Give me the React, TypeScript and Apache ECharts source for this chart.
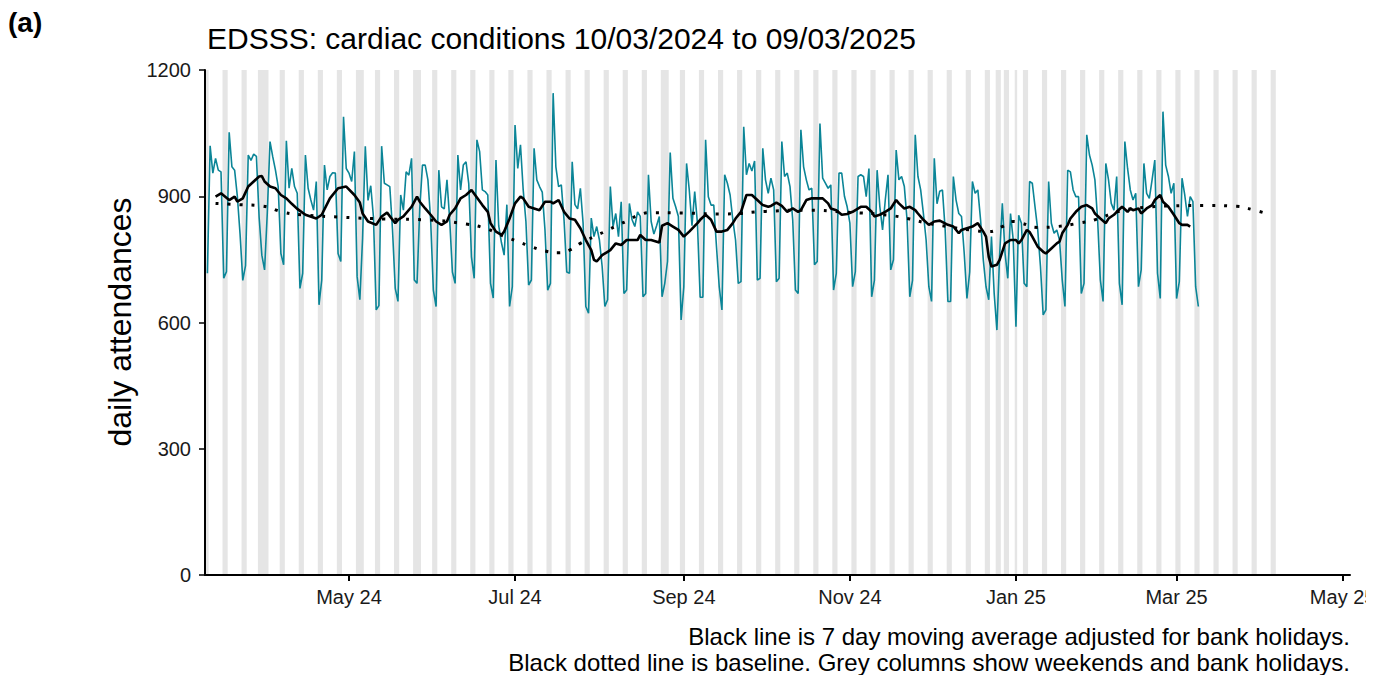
import React, { useEffect, useRef } from "react";
import * as echarts from "echarts";

const DAY = 86400000;
const startDate = "2024-03-10";
const axisMinDay = -0.88;
const axisMaxDay = 419.7;

// daily attendances, one value per day from 10/03/2024 to 09/03/2025
const dailyAttendances = [
  717, 1020, 955, 990, 962, 958, 705, 721, 1052, 970, 962, 900, 810, 700,
  735, 998, 985, 1000, 995, 850, 760, 725, 860, 1030, 994, 962, 923, 764,
  737, 1032, 919, 966, 923, 907, 681, 717, 998, 919, 891, 867, 935, 642,
  701, 974, 915, 947, 956, 955, 764, 745, 1089, 966, 955, 935, 1006, 709,
  654, 800, 1019, 890, 925, 850, 630, 640, 1019, 931, 927, 923, 820, 681,
  650, 903, 867, 958, 950, 990, 701, 693, 870, 974, 974, 939, 844, 677,
  638, 962, 875, 870, 939, 844, 720, 693, 998, 915, 974, 982, 930, 756,
  705, 1034, 1006, 915, 911, 903, 693, 658, 986, 830, 790, 760, 880, 638,
  685, 1069, 966, 1022, 915, 840, 689, 701, 1014, 939, 923, 910, 820, 677,
  693, 1145, 970, 923, 927, 844, 720, 717, 982, 880, 870, 919, 836, 638,
  622, 848, 804, 828, 796, 733, 638, 654, 923, 828, 859, 804, 887, 669,
  677, 883, 844, 828, 863, 852, 661, 669, 951, 840, 810, 830, 852, 661,
  693, 745, 1004, 895, 875, 852, 606, 685, 978, 915, 830, 911, 836, 660,
  660, 1034, 899, 879, 879, 780, 685, 630, 951, 931, 903, 844, 796, 693,
  697, 1065, 951, 978, 960, 984, 701, 705, 1014, 939, 907, 943, 915, 697,
  705, 1030, 947, 955, 923, 844, 677, 669, 1058, 970, 939, 915, 919, 737,
  745, 1073, 943, 931, 919, 927, 677, 717, 955, 955, 900, 875, 836, 685,
  721, 947, 951, 947, 899, 966, 661, 700, 962, 875, 820, 891, 951, 725,
  749, 1010, 939, 947, 923, 844, 661, 700, 1046, 947, 915, 859, 796, 685,
  650, 990, 882, 912, 915, 820, 650, 650, 947, 891, 859, 852, 764, 657,
  720, 935, 907, 915, 844, 749, 685, 654, 804, 669, 582, 760, 883, 764,
  705, 859, 796, 590, 855, 836, 693, 685, 935, 931, 875, 820, 733, 618,
  630, 935, 836, 812, 820, 796, 701, 638, 962, 958, 915, 899, 899, 669,
  693, 1046, 998, 974, 939, 844, 701, 650, 978, 939, 883, 867, 947, 693,
  642, 1030, 966, 915, 891, 907, 685, 725, 978, 907, 895, 939, 986, 717,
  657, 1101, 974, 947, 907, 931, 657, 697, 943, 903, 852, 899, 887, 685,
  638,
];

// 7 day moving average: [day offset from start, value]
const movingAverage: [number, number][] = [
  [3, 899], [5, 907], [8, 891], [10, 899], [11, 887], [13, 895], [15, 923], [17, 935],
  [19, 947], [20, 948], [21, 935], [23, 923], [25, 919], [27, 903], [29, 895], [31, 882],
  [33, 870], [36, 856], [40, 847], [42, 856], [45, 895], [48, 919], [51, 923], [54, 903],
  [56, 885], [57, 859], [59, 840], [62, 832], [64, 852], [66, 861], [69, 836], [70, 844],
  [72, 852], [75, 875], [77, 899], [78, 887], [80, 871], [82, 856], [84, 840], [86, 832],
  [88, 840], [89, 856], [91, 871], [93, 895], [95, 903], [97, 915], [99, 897], [101, 879],
  [103, 863], [104, 836], [106, 816], [108, 808], [109, 816], [111, 847], [113, 883], [115, 899],
  [116, 895], [118, 875], [120, 871], [122, 867], [124, 887], [126, 887], [127, 883], [129, 891],
  [131, 863], [133, 847], [135, 844], [137, 824], [139, 796], [141, 772], [142, 749], [143, 745],
  [145, 760], [147, 768], [148, 772], [150, 788], [152, 784], [154, 796], [156, 796], [158, 796],
  [159, 808], [161, 796], [163, 796], [166, 790], [167, 830], [169, 836], [171, 828], [173, 820],
  [175, 804], [177, 816], [180, 836], [181, 844], [183, 856], [185, 844], [187, 816], [189, 816],
  [191, 820], [193, 836], [194, 847], [196, 863], [198, 903], [200, 903], [201, 897], [202, 891],
  [204, 879], [206, 875], [207, 877], [209, 885], [211, 877], [213, 863], [215, 871], [217, 863],
  [218, 867], [220, 891], [222, 895], [225, 895], [226, 895], [228, 883], [229, 871], [231, 867],
  [233, 856], [235, 858], [237, 863], [240, 875], [242, 875], [244, 863], [245, 852], [247, 856],
  [249, 863], [251, 871], [253, 891], [254, 883], [256, 871], [258, 875], [260, 867], [261, 859],
  [263, 844], [265, 832], [267, 840], [269, 842], [272, 832], [274, 828], [276, 812], [277, 820],
  [279, 824], [281, 828], [283, 836], [285, 816], [286, 804], [287, 756], [288, 733], [290, 737],
  [291, 749], [293, 788], [295, 796], [297, 796], [298, 788], [299, 796], [301, 820], [302, 815],
  [303, 804], [305, 780], [307, 768], [308, 764], [310, 776], [312, 788], [313, 792], [314, 812],
  [316, 832], [317, 847], [319, 863], [321, 875], [323, 879], [325, 871], [326, 859], [328, 847],
  [330, 836], [331, 847], [333, 856], [334, 863], [336, 875], [338, 863], [339, 871], [340, 867],
  [342, 871], [343, 859], [345, 871], [347, 879], [348, 891], [350, 903], [351, 887], [353, 875],
  [355, 856], [357, 836], [358, 832], [360, 832], [361, 828],
];

// baseline: [day offset from start, value]
const baseline: [number, number][] = [
  [3, 883], [12, 880], [20, 877], [28, 862], [35, 856], [50, 850], [65, 846], [80, 844],
  [95, 834], [102, 824], [107, 810], [111, 800], [115, 790], [119, 780], [124, 770], [129, 766],
  [133, 772], [137, 788], [142, 804], [146, 816], [150, 829], [155, 844], [158, 854], [163, 861],
  [175, 860], [190, 858], [205, 864], [220, 867], [235, 862], [250, 855], [258, 846], [263, 838],
  [270, 830], [280, 820], [287, 816], [292, 828], [296, 840], [299, 836], [305, 826], [312, 828],
  [320, 836], [326, 844], [335, 864], [345, 874], [355, 877], [368, 878], [378, 876], [384, 868],
  [390, 857],
];

const bankHolidays = [
  "2024-03-29", "2024-04-01", "2024-05-06", "2024-05-27", "2024-08-26",
  "2024-12-25", "2024-12-26", "2025-01-01",
];
const greyEndDate = "2025-04-06";

const tickDates = ["2024-05-01", "2024-07-01", "2024-09-01", "2024-11-01", "2025-01-01", "2025-03-01", "2025-05-01"];
const tickLabels = ["May 24", "Jul 24", "Sep 24", "Nov 24", "Jan 25", "Mar 25", "May 25"];
const yTicks = { min: 0, max: 1200, interval: 300 };

const titleText = "EDSSS: cardiac conditions 10/03/2024 to 09/03/2025";
const panelLabel = "(a)";
const yLabel = "daily attendances";
const footnote1 = "Black line is 7 day moving average adjusted for bank holidays.";
const footnote2 = "Black dotted line is baseline. Grey columns show weekends and bank holidays.";

const parseDate = (s: string) => {
  const [y, m, d] = s.split("-").map(Number);
  return Date.UTC(y, m - 1, d);
};
const START = parseDate(startDate);
const dayOf = (s: string) => Math.round((parseDate(s) - START) / DAY);

const FONT = "'Liberation Sans', Arial, sans-serif";

function buildGreyAreas() {
  const endDay = dayOf(greyEndDate);
  const hol = new Set(bankHolidays.map(dayOf));
  const days: number[] = [];
  for (let d = 0; d <= endDay; d++) {
    const wd = new Date(START + d * DAY).getUTCDay();
    if (wd === 0 || wd === 6 || hol.has(d)) days.push(d);
  }
  const runs: [number, number][] = [];
  for (const d of days) {
    const last = runs[runs.length - 1];
    if (last && last[1] === d - 1) last[1] = d;
    else runs.push([d, d]);
  }
  return runs.map(([a, b]) => [{ xAxis: Math.max(a - 0.45, axisMinDay) }, { xAxis: b + 0.45 }]);
}

export default function App() {
  const ref = useRef<HTMLDivElement>(null);
  useEffect(() => {
    if (!ref.current) return;
    const chart = echarts.init(ref.current, undefined, { renderer: "svg" });
    const tickDays = tickDates.map(dayOf);
    chart.setOption({
      animation: false,
      backgroundColor: "#ffffff",
      grid: { left: 205, right: 16, top: 70, bottom: 100, containLabel: false, outerBoundsMode: "none" },
      xAxis: {
        type: "value",
        min: axisMinDay,
        max: axisMaxDay,
        z: 10,
        axisLine: { show: true, onZero: false, lineStyle: { color: "#000", width: 2 } },
        axisTick: { show: true, length: 6, lineStyle: { color: "#000", width: 2 }, customValues: tickDays },
        axisLabel: {
          customValues: tickDays,
          color: "#1a1a1a",
          fontSize: 20,
          fontFamily: FONT,
          margin: 12,
          formatter: (v: number) => {
            let best = 0;
            tickDays.forEach((t, i) => {
              if (Math.abs(t - v) < Math.abs(tickDays[best] - v)) best = i;
            });
            return tickLabels[best];
          },
        },
        splitLine: { show: false },
      },
      yAxis: {
        type: "value",
        min: yTicks.min,
        max: yTicks.max,
        interval: yTicks.interval,
        z: 10,
        axisLine: { show: true, onZero: false, lineStyle: { color: "#000", width: 2 } },
        axisTick: { show: true, length: 6, lineStyle: { color: "#000", width: 1.5 } },
        axisLabel: {
          color: "#1a1a1a", fontSize: 20, fontFamily: FONT, margin: 14,
          formatter: (v: number) => String(v),
        },
        splitLine: { show: false },
      },
      graphic: [
        {
          type: "text", x: 8, y: 22,
          style: { text: panelLabel, font: `bold 28px ${FONT}`, fill: "#000", textVerticalAlign: "middle" },
        },
        {
          type: "text", x: 207, y: 38,
          style: { text: titleText, font: `30px ${FONT}`, fill: "#000", textVerticalAlign: "middle" },
        },
        {
          type: "text", x: 120, y: 322, rotation: Math.PI / 2,
          style: { text: yLabel, font: `32px ${FONT}`, fill: "#000", textAlign: "center", textVerticalAlign: "middle" },
        },
        {
          type: "text", x: 1350, y: 636,
          style: { text: footnote1, font: `24px ${FONT}`, fill: "#000", textAlign: "right", textVerticalAlign: "middle" },
        },
        {
          type: "text", x: 1350, y: 662,
          style: { text: footnote2, font: `24px ${FONT}`, fill: "#000", textAlign: "right", textVerticalAlign: "middle" },
        },
      ],
      series: [
        {
          type: "line",
          name: "daily",
          data: dailyAttendances.map((v, i) => [i, v]),
          symbol: "none",
          lineStyle: { color: "#0b8597", width: 1.6 },
          z: 2,
          markArea: {
            silent: true,
            itemStyle: { color: "#e5e5e5" },
            data: buildGreyAreas(),
          },
        },
        {
          type: "line",
          name: "baseline",
          data: baseline,
          symbol: "none",
          smooth: true,
          lineStyle: { color: "#000", width: 3, type: [3, 9], cap: "butt" },
          z: 3,
        },
        {
          type: "line",
          name: "ma",
          data: movingAverage,
          symbol: "none",
          lineStyle: { color: "#000", width: 2.6 },
          z: 4,
        },
      ],
    });
    return () => chart.dispose();
  }, []);
  return (
    <div
      ref={ref}
      style={{ position: "absolute", left: 0, top: 0, width: 1366, height: 675, background: "#fff" }}
    />
  );
}
